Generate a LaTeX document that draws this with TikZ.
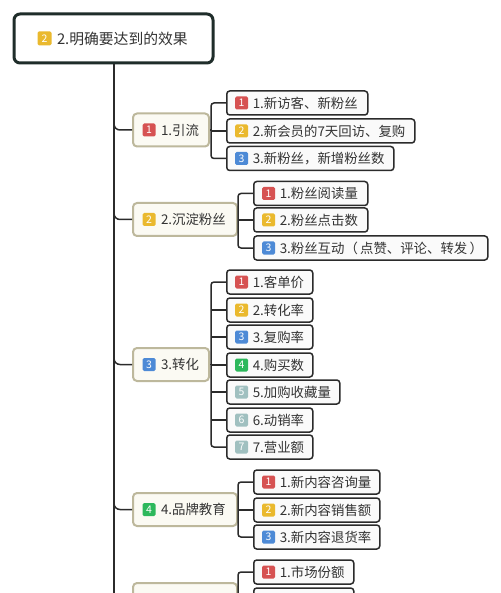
\documentclass[tikz,border=0pt]{standalone}
\usepackage{fontspec}
\setmainfont{Noto Sans CJK SC}
\definecolor{bred}{HTML}{D65252}
\definecolor{byel}{HTML}{EAB92E}
\definecolor{bblu}{HTML}{4D8AD6}
\definecolor{bgrn}{HTML}{2DB85C}
\definecolor{bgry}{HTML}{A0C0C0}
\definecolor{linec}{HTML}{2B2B2B}
\definecolor{rootc}{HTML}{1F2D2A}
\definecolor{brc}{HTML}{BDB89C}
\definecolor{brfill}{HTML}{FBFAF3}
\definecolor{kidfill}{HTML}{FAFAFA}
\tikzset{
  conn/.style={draw=linec, line width=1.5pt},
  rootbox/.style={draw=rootc, line width=3pt, rounded corners=6pt, fill=white, inner xsep=25pt, minimum height=49pt, align=left, font=\fontsize{14.8}{17}\selectfont, text=black!80},
  brbox/.style={draw=brc, line width=2pt, rounded corners=4pt, fill=brfill, inner xsep=11pt, minimum height=33pt, align=left, anchor=west, font=\fontsize{13.4}{16}\selectfont, text=black!80},
  kidbox/.style={draw=linec, line width=1.5pt, rounded corners=3pt, fill=kidfill, inner xsep=9pt, minimum height=24pt, align=left, anchor=west, font=\fontsize{13.4}{16}\selectfont, text=black!80},
  badge/.style={rounded corners=1.5pt, text=white, minimum width=13pt, minimum height=13pt, inner sep=0pt, font=\fontsize{10.5}{10.5}\selectfont}
}
% name, x, y, textwidth, badgecolor, num, text
\newcommand\kidnode[7]{%
  \node[kidbox, text width=#4pt] (#1) at (#2,#3) {\hspace*{17pt}#7};
  \node[badge, fill=#5] (#1b) at ([xshift=15.5pt]#1.west) {#6};}
\newcommand\brnode[7]{%
  \node[brbox, text width=#4pt] (#1) at (#2,#3) {\hspace*{17pt}#7};
  \node[badge, fill=#5] (#1b) at ([xshift=17pt]#1.west) {#6};}
\begin{document}
\begin{tikzpicture}[x=1pt,y=-1pt]
\useasboundingbox (0,0) rectangle (500,593);
\clip (0,0) rectangle (500,593);
\fill[white] (0,0) rectangle (500,593);
% root
\node[rootbox, text width=149pt] (root) at (113.5,38.5) {\hspace*{18pt}2.明确要达到的效果};
\node[badge, fill=byel, minimum width=14pt, minimum height=14pt] (rootb) at ([xshift=32pt]root.west) {2};
\coordinate (trunkend) at (114,600);
\draw[conn] (root.south -| trunkend) -- (trunkend);
% branches
\brnode{b1}{132}{130}{54}{bred}{1}{1.引流}
\brnode{b2}{132}{219.5}{82}{byel}{2}{2.沉淀粉丝}
\brnode{b3}{132}{364.5}{54}{bblu}{3}{3.转化}
\brnode{b4}{132}{509.5}{82}{bgrn}{4}{4.品牌教育}
\node[brbox, text width=82pt] (b5) at (132,599.5) {};
\node[badge, fill=bgry] (b5b) at ([xshift=17pt]b5.west) {5};
\foreach \b/\y in {b1/130,b2/219.5,b3/364.5,b4/509.5,b5/599.5}{
  \draw[conn, rounded corners=6pt] (114,\y-12) |- (\b.west);
}
% branch 1 kids
\kidnode{c11}{226}{103}{123}{bred}{1}{1.新访客、新粉丝}
\kidnode{c12}{226}{131}{170}{byel}{2}{2.新会员的7天回访、复购}
\kidnode{c13}{226}{158.5}{149}{bblu}{3}{3.新粉丝，新增粉丝数}
\coordinate (s1) at (211,130);
\draw[conn, rounded corners=3pt] (c11.west) -| (s1) |- (c13.west);
\draw[conn] (b1.east) -- (s1);
\draw[conn] (c12.west) -- (c12.west -| s1);
% branch 2 kids
\kidnode{c21}{253}{193.5}{96}{bred}{1}{1.粉丝阅读量}
\kidnode{c22}{253}{220}{96}{byel}{2}{2.粉丝点击数}
\kidnode{c23}{253}{248}{216}{bblu}{3}{3.粉丝互动（\,点赞、评论、转发\,）}
\coordinate (s2) at (238,219.5);
\draw[conn, rounded corners=3pt] (c21.west) -| (s2) |- (c23.west);
\draw[conn] (b2.east) -- (s2);
\draw[conn] (c22.west) -- (c22.west -| s2);
% branch 3 kids
\kidnode{c31}{226}{282}{68}{bred}{1}{1.客单价}
\kidnode{c32}{226}{310}{68}{byel}{2}{2.转化率}
\kidnode{c33}{226}{337}{68}{bblu}{3}{3.复购率}
\kidnode{c34}{226}{365}{68}{bgrn}{4}{4.购买数}
\kidnode{c35}{226}{392}{95}{bgry}{5}{5.加购收藏量}
\kidnode{c36}{226}{420}{68}{bgry}{6}{6.动销率}
\kidnode{c37}{226}{447}{68}{bgry}{7}{7.营业额}
\coordinate (s3) at (211,364.5);
\draw[conn, rounded corners=3pt] (c31.west) -| (s3) |- (c37.west);
\draw[conn] (b3.east) -- (s3);
\foreach \c in {c32,c33,c34,c35,c36}{
  \draw[conn] (\c.west) -- (\c.west -| s3);
}
% branch 4 kids
\kidnode{c41}{253}{482}{108}{bred}{1}{1.新内容咨询量}
\kidnode{c42}{253}{510}{108}{byel}{2}{2.新内容销售额}
\kidnode{c43}{253}{537}{108}{bblu}{3}{3.新内容退货率}
\coordinate (s4) at (238,509.5);
\draw[conn, rounded corners=3pt] (c41.west) -| (s4) |- (c43.west);
\draw[conn] (b4.east) -- (s4);
\draw[conn] (c42.west) -- (c42.west -| s4);
% branch 5 kids (cut off by the picture's lower edge)
\kidnode{c51}{253}{572}{82}{bred}{1}{1.市场份额}
\node[kidbox, text width=82pt] (c52) at (253,600) {};
\node[badge, fill=byel] (c52b) at ([xshift=15.5pt]c52.west) {2};
\coordinate (s5) at (238,599.5);
\draw[conn, rounded corners=3pt] (c51.west) -| (s5) -- ++(0,20);
\draw[conn] (b5.east) -- (s5);
\end{tikzpicture}
\end{document}
